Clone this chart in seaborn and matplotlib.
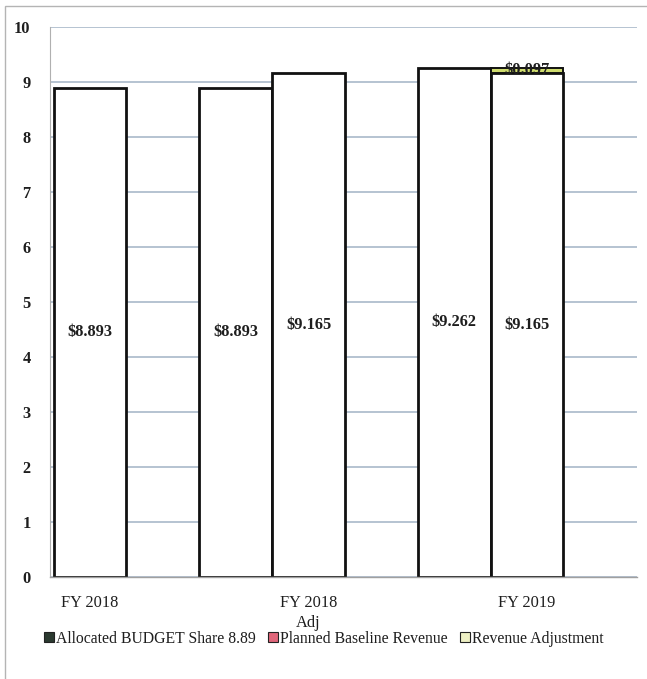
import numpy as np
import pandas as pd
import seaborn as sns
import matplotlib
matplotlib.use("Agg")
import matplotlib.pyplot as plt
from matplotlib.patches import Patch, Rectangle

# ---- data ----
categories = ["FY 2018", "FY 2018\nAdj", "FY 2019"]
left_values = [np.nan, 8.893, 9.262]      # first bar of each group
main_values = [8.893, 9.165, 9.165]       # second bar of each group
adjust_values = [np.nan, np.nan, 0.097]   # revenue adjustment stacked on second bar
slot_names = ["left", "main", "spare"]
legend_labels = ["Allocated BUDGET Share 8.89", "Planned Baseline Revenue", "Revenue Adjustment"]
y_ticks = [0, 1, 2, 3, 4, 5, 6, 7, 8, 9, 10]

# ---- style ----
sns.set_style("white")
plt.rcParams["font.family"] = ["Liberation Serif", "DejaVu Serif"]
text_color = "#1e1e1e"
grid_color = "#a9b9c9"
legend_colors = ["#2b3a30", "#e0667a", "#eef0c4"]
adjust_color = "#cfdc6e"
fs = 11.8

rows = []
for c, lv, mv in zip(categories, left_values, main_values):
    if not np.isnan(lv):
        rows.append((c, "left", lv))
    if not np.isnan(mv):
        rows.append((c, "main", mv))
df = pd.DataFrame(rows, columns=["category", "slot", "value"])

adj_rows = []
for c, mv, av in zip(categories, main_values, adjust_values):
    if not np.isnan(av):
        adj_rows.append((c, "main", av, mv))
df_adj = pd.DataFrame(adj_rows, columns=["category", "slot", "value", "base"])

fig = plt.figure(figsize=(6.47, 6.79), dpi=100)
ax = fig.add_axes([50 / 647, 102 / 679, 587 / 647, 550 / 679])

sns.barplot(data=df, x="category", y="value", hue="slot", order=categories,
            hue_order=slot_names, palette={"left": "white", "main": "white", "spare": "white"},
            width=1.0, gap=0, dodge=True, edgecolor="#111111", linewidth=2.0,
            legend=False, ax=ax, errorbar=None, saturation=1)

for cont in list(ax.containers):
    vals = cont.datavalues
    if len(vals):
        ax.bar_label(cont, labels=[f"\\${v:.3f}" for v in vals], label_type="center",
                     fontsize=fs, fontweight="bold", color=text_color)

n_before = len(ax.containers)
sns.barplot(data=df_adj, x="category", y="value", hue="slot", order=categories,
            hue_order=slot_names, palette={"left": adjust_color, "main": adjust_color, "spare": adjust_color},
            width=1.0, gap=0, dodge=True, edgecolor="#111111", linewidth=1.4,
            legend=False, ax=ax, errorbar=None, saturation=1,
            bottom=df_adj["base"].to_numpy())
for cont in list(ax.containers)[n_before:]:
    vals = cont.datavalues
    if len(vals):
        ax.bar_label(cont, labels=[f"\\${v:.3f}" for v in vals], label_type="center",
                     fontsize=fs, fontweight="bold", color=text_color)

# ---- axes ----
ax.set_ylim(0, 10)
ax.set_xlim(-0.183, 2.503)
ax.set_yticks(y_ticks)
ax.set_yticklabels([str(t) for t in y_ticks], fontsize=fs, fontweight="bold", color=text_color)
ax.set_xticks(range(len(categories)))
ax.set_xticklabels(categories, fontsize=fs, color=text_color, linespacing=1.3)
ax.set_xticks([0.5, 1.5, 2.5], minor=True)
ax.tick_params(axis="x", which="major", length=0, pad=13)
ax.tick_params(axis="x", which="minor", length=4, color="#9a9a9a", direction="out")
ax.tick_params(axis="y", length=4, color="#9a9a9a", direction="out", pad=10)
ax.set_xlabel("")
ax.set_ylabel("")
ax.set_axisbelow(True)
ax.yaxis.grid(True, color=grid_color, linewidth=1.2)
ax.xaxis.grid(False)
for s in ["top", "right"]:
    ax.spines[s].set_visible(False)
ax.spines["left"].set_color("#b0b0b0")
ax.spines["bottom"].set_color("#a0a0a0")
ax.spines["left"].set_linewidth(0.8)
ax.spines["bottom"].set_linewidth(1.0)

handles = [Patch(facecolor=col, edgecolor="#222222", linewidth=0.8) for col in legend_colors]
fig.legend(handles, legend_labels, loc="center left", bbox_to_anchor=(30 / 647, 40 / 679),
           ncol=3, frameon=False, fontsize=11.3, handlelength=0.6, handleheight=0.6,
           handletextpad=0.15, columnspacing=0.8, labelcolor=text_color)

fig.patches.append(Rectangle((5 / 647, -0.02), 1.2, 1.02 - 6 / 679, transform=fig.transFigure,
                             fill=False, edgecolor="#b4b4b4", linewidth=1.0))

fig.savefig("out.png", dpi=100, facecolor="white")
